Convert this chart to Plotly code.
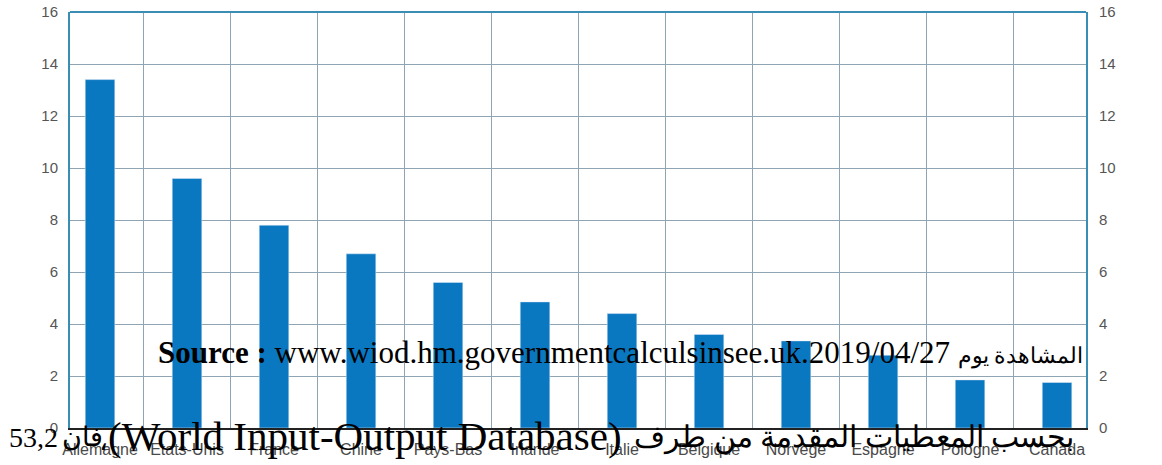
import plotly.graph_objects as go

# Countries and their share values
countries = ["Allemagne", "Etats-Unis", "France", "Chine", "Pays-Bas", "Irlande",
             "Italie", "Belgique", "Norvège", "Espagne", "Pologne", "Canada"]
values = [13.4, 9.6, 7.8, 6.7, 5.6, 4.85, 4.4, 3.6, 3.35, 2.8, 1.85, 1.75]
y_ticks = [0, 2, 4, 6, 8, 10, 12, 14, 16]

source_text = ("<b>Source :</b> www.wiod.hm.governmentcalculsinsee.uk.2019/04/27 "
               "<span style=\"font-size:22px\">المشاهدة يوم</span>")
body_number = "53,2"
body_word = "فان"
body_latin = "<span style=\"font-size:28px\">،</span>(World Input-Output Database)"
body_arabic = "بحسب المعطيات المقدمة من طرف"

W, H = 1162, 465
L, R, T, B = 70, 76, 12, 37
pw, ph = W - L - R, H - T - B


def px(x):
    return (x - L) / pw


def py(y):
    return (H - B - y) / ph


BAR = "#0a77c1"
FRAME = "#3a8db3"
GRID = "#8fa5b4"
TICK = "#555555"
SERIF = "Liberation Serif, Times New Roman, serif"


def note(text, x, y, anchor, size):
    return dict(text=text, xref="paper", yref="paper", x=px(x), y=py(y),
                xanchor=anchor, yanchor="middle", showarrow=False,
                font=dict(family=SERIF, size=size, color="black"))


fig = go.Figure()
fig.add_trace(go.Bar(x=countries, y=values, marker=dict(color=BAR, line=dict(width=0)),
                     width=0.34, yaxis="y"))
fig.add_trace(go.Bar(x=countries, y=values, marker=dict(color="rgba(0,0,0,0)"),
                     width=0.34, yaxis="y2", hoverinfo="skip", showlegend=False))

fig.update_layout(
    width=W, height=H,
    margin=dict(l=L, r=R, t=T, b=B, autoexpand=False),
    paper_bgcolor="white", plot_bgcolor="white",
    showlegend=False, barmode="overlay",
    xaxis=dict(
        type="category", range=[-0.345, 11.333], automargin=False,
        tickson="boundaries", showgrid=True, gridcolor=GRID, gridwidth=1,
        ticks="", ticklen=0, ticklabelstandoff=6,
        tickfont=dict(family="Liberation Sans Narrow, Arial Narrow, Liberation Sans, Arial",
                      size=16, color="#4a4a4a"),
        showline=True, linecolor="#222222", linewidth=2,
        mirror=False, zeroline=False,
    ),
    yaxis=dict(
        range=[0, 16], tickvals=y_ticks, automargin=False,
        showgrid=True, gridcolor=GRID, gridwidth=1,
        ticks="", tickfont=dict(family="Liberation Sans, Arial", size=15, color=TICK),
        showline=True, linecolor=FRAME, linewidth=2, zeroline=False,
        ticklabelstandoff=7,
    ),
    yaxis2=dict(
        range=[0, 16], tickvals=y_ticks, overlaying="y", side="right", automargin=False,
        showgrid=False,
        ticks="", tickfont=dict(family="Liberation Sans, Arial", size=15, color=TICK),
        showline=True, linecolor=FRAME, linewidth=2, zeroline=False,
        ticklabelstandoff=8,
    ),
    shapes=[dict(type="line", xref="paper", yref="paper", x0=0, x1=1, y0=1, y1=1,
                 line=dict(color=FRAME, width=2))],
    annotations=[
        note(source_text, 156, 352, "left", 31),
        note(body_number, 7, 437, "left", 28),
        note(body_word, 60, 437, "left", 27),
        note(body_latin, 97, 436, "left", 41),
        note(body_arabic, 1076, 437, "right", 30),
    ],
)

fig.write_html("out.html")
